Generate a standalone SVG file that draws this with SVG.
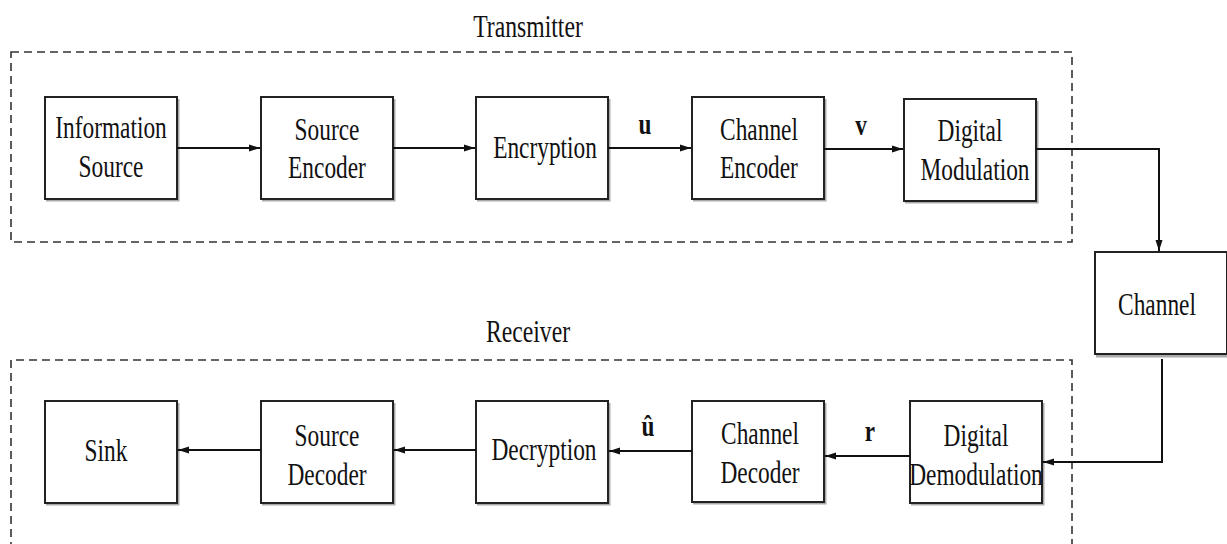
<svg xmlns="http://www.w3.org/2000/svg" width="1227" height="544" viewBox="0 0 1227 544">
<style>
.box{fill:#fff;stroke:#222;stroke-width:2}
.shadow{fill:none;stroke:#aaa;stroke-width:3}
.dash{fill:none;stroke:#333;stroke-width:1.6;stroke-dasharray:8 5}
.t{font-family:"Liberation Serif","Times New Roman",serif;font-size:32px;fill:#111;text-anchor:middle}
.lb{font-family:"Liberation Serif","Times New Roman",serif;font-size:29px;font-weight:bold;fill:#111;text-anchor:middle}
.c{fill:none;stroke:#111;stroke-width:2}
</style>
<defs>
<marker id="ah" markerWidth="12" markerHeight="8" refX="11" refY="4" orient="auto" markerUnits="userSpaceOnUse">
<path d="M0,0.5 L11,4 L0,7.5 Z" fill="#111"/>
</marker>
</defs>
<rect width="1227" height="544" fill="#fff"/>

<g id="transmitter">
<rect class="dash" x="11" y="52" width="1061" height="190"/>
<text class="t" transform="translate(528,37) scale(0.74,1)">Transmitter</text>
</g>
<g id="receiver">
<path class="dash" d="M11,550 L11,360 L1072,360 L1072,550"/>
<text class="t" transform="translate(528,342) scale(0.74,1)">Receiver</text>
</g>

<g id="info-source">
<path class="shadow" d="M46,200 H178 V99"/>
<rect class="box" x="45" y="97" width="132" height="102"/>
<text class="t" transform="translate(111,138) scale(0.73,1)">Information</text>
<text class="t" transform="translate(111,177) scale(0.73,1)">Source</text>
</g>
<g id="source-encoder">
<path class="shadow" d="M262,200 H394 V99"/>
<rect class="box" x="261" y="97" width="132" height="102"/>
<text class="t" transform="translate(327,140) scale(0.73,1)">Source</text>
<text class="t" transform="translate(327,178) scale(0.73,1)">Encoder</text>
</g>
<g id="encryption">
<path class="shadow" d="M477,200 H609 V99"/>
<rect class="box" x="476" y="97" width="132" height="102"/>
<text class="t" transform="translate(545,158) scale(0.73,1)">Encryption</text>
</g>
<g id="channel-encoder">
<path class="shadow" d="M693,200 H825 V99"/>
<rect class="box" x="692" y="97" width="132" height="102"/>
<text class="t" transform="translate(759,140) scale(0.73,1)">Channel</text>
<text class="t" transform="translate(759,178) scale(0.73,1)">Encoder</text>
</g>
<g id="digital-modulation">
<path class="shadow" d="M905,202 H1037 V101"/>
<rect class="box" x="904" y="99" width="132" height="102"/>
<text class="t" transform="translate(970,141) scale(0.73,1)">Digital</text>
<text class="t" transform="translate(975,180) scale(0.73,1)">Modulation</text>
</g>
<g id="channel">
<path class="shadow" d="M1096,356 H1228 V254"/>
<rect class="box" x="1095" y="252" width="132" height="102"/>
<text class="t" transform="translate(1157,315) scale(0.73,1)">Channel</text>
</g>

<g id="sink">
<path class="shadow" d="M46,504 H178 V403"/>
<rect class="box" x="45" y="401" width="132" height="102"/>
<text class="t" transform="translate(106,461) scale(0.73,1)">Sink</text>
</g>
<g id="source-decoder">
<path class="shadow" d="M262,504 H394 V403"/>
<rect class="box" x="261" y="401" width="132" height="102"/>
<text class="t" transform="translate(327,446) scale(0.73,1)">Source</text>
<text class="t" transform="translate(327,485) scale(0.73,1)">Decoder</text>
</g>
<g id="decryption">
<path class="shadow" d="M477,504 H609 V403"/>
<rect class="box" x="476" y="401" width="132" height="102"/>
<text class="t" transform="translate(544,460) scale(0.73,1)">Decryption</text>
</g>
<g id="channel-decoder">
<path class="shadow" d="M693,503 H825 V403"/>
<rect class="box" x="692" y="401" width="132" height="101"/>
<text class="t" transform="translate(760,444) scale(0.73,1)">Channel</text>
<text class="t" transform="translate(760,483) scale(0.73,1)">Decoder</text>
</g>
<g id="digital-demodulation">
<path class="shadow" d="M911,504 H1043 V403"/>
<rect class="box" x="910" y="401" width="132" height="102"/>
<text class="t" transform="translate(976,446) scale(0.73,1)">Digital</text>
<text class="t" transform="translate(976,485) scale(0.73,1)">Demodulation</text>
</g>

<g id="connectors">
<line class="c" x1="177" y1="148" x2="260" y2="148" marker-end="url(#ah)"/>
<line class="c" x1="393" y1="148" x2="475" y2="148" marker-end="url(#ah)"/>
<line class="c" x1="608" y1="148" x2="691" y2="148" marker-end="url(#ah)"/>
<line class="c" x1="824" y1="149" x2="903" y2="149" marker-end="url(#ah)"/>
<path class="c" d="M1036,149 H1159 V251" marker-end="url(#ah)"/>
<path class="c" d="M1162,359 V462 H1043" marker-end="url(#ah)"/>
<line class="c" x1="910" y1="456" x2="825" y2="456" marker-end="url(#ah)"/>
<line class="c" x1="692" y1="451" x2="609" y2="451" marker-end="url(#ah)"/>
<line class="c" x1="476" y1="450" x2="394" y2="450" marker-end="url(#ah)"/>
<line class="c" x1="261" y1="450" x2="178" y2="450" marker-end="url(#ah)"/>
<text class="lb" transform="translate(645,134) scale(0.8,1)">u</text>
<text class="lb" transform="translate(861,135) scale(0.8,1)">v</text>
<text class="lb" transform="translate(870,441) scale(0.8,1)">r</text>
<text class="lb" transform="translate(648,436) scale(0.8,1)">û</text>
</g>
</svg>
